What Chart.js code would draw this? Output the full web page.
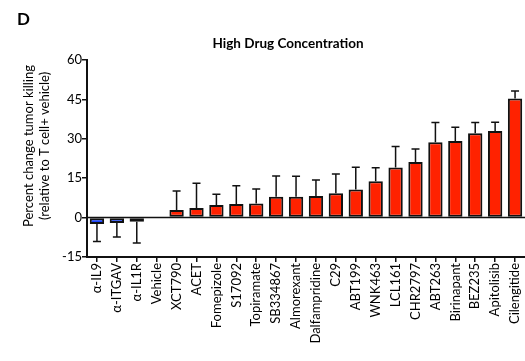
<!DOCTYPE html>
<html>
<head>
<meta charset="utf-8">
<script src="https://cdn.jsdelivr.net/npm/chart.js@4.4.1/dist/chart.umd.min.js"></script>
<style>
html,body{margin:0;padding:0;background:#fff;}
#wrap{width:525px;height:361px;position:relative;}
</style>
</head>
<body>
<div id="wrap"><canvas id="c" width="525" height="361"></canvas></div>
<script>
const categories = ["α-IL9","α-ITGAV","α-IL1R","Vehicle","XCT790","ACET","Fomepizole","S17092","Topiramate","SB334867","Almorexant","Dalfampridine","C29","ABT199","WNK463","LCL161","CHR2797","ABT263","Birinapant","BEZ235","Apitolisib","Cilengitide"];
const values = [-2.4,-2.1,-1.6,0,2.9,3.7,4.8,5.2,5.4,7.9,7.9,8.2,9.3,10.7,13.8,19.1,21.2,28.7,29.2,32.1,33.0,45.3];
const errors = [6.7,5.3,8.1,0,7.2,9.4,4.1,6.9,5.5,7.9,7.8,6.1,7.3,8.5,5.2,8.0,4.9,7.5,5.2,4.1,3.3,2.9];
const yTicks = [-15,0,15,30,45,60];
const chartTitle = "High Drug Concentration";
const panelLabel = "D";
const yTitle = ["Percent change tumor killing","(relative to T cell+ vehicle)"];

const FONT = "Lato, 'Open Sans', sans-serif";
const RED = "#ff2200", BLUE = "#1a44ff";
const colors = values.map(v => v < 0 ? BLUE : RED);

const errorBars = {
  id: 'errorBars',
  afterDatasetsDraw(chart) {
    const ctx = chart.ctx, x = chart.scales.x, y = chart.scales.y;
    ctx.save();
    ctx.strokeStyle = '#111';
    ctx.lineWidth = 1.5;
    values.forEach((v, i) => {
      if (!errors[i]) return;
      const cx = x.getPixelForValue(i);
      const y0 = y.getPixelForValue(v);
      const y1 = y.getPixelForValue(v >= 0 ? v + errors[i] : v - errors[i]);
      ctx.beginPath();
      ctx.moveTo(cx, y0); ctx.lineTo(cx, y1);
      ctx.moveTo(cx - 4, y1); ctx.lineTo(cx + 4, y1);
      ctx.stroke();
    });
    const z = y.getPixelForValue(0);
    ctx.lineWidth = 1.5;
    ctx.beginPath();
    ctx.moveTo(chart.chartArea.left, z); ctx.lineTo(chart.chartArea.right, z);
    ctx.stroke();
    ctx.restore();
  },
  afterDraw(chart) {
    const ctx = chart.ctx;
    ctx.save();
    ctx.fillStyle = '#000';
    ctx.textBaseline = 'middle';
    ctx.font = "bold 17px " + FONT;
    ctx.textAlign = 'left';
    ctx.fillText(panelLabel, 17, 20);
    ctx.font = "bold 13.5px " + FONT;
    ctx.textAlign = 'center';
    ctx.fillText(chartTitle, 288, 44);
    ctx.font = "13px " + FONT;
    ctx.translate(0, 146);
    ctx.rotate(-Math.PI / 2);
    ctx.fillText(yTitle[0], 0, 29);
    ctx.fillText(yTitle[1], 0, 45);
    ctx.restore();
  }
};

new Chart(document.getElementById('c'), {
  type: 'bar',
  data: {
    labels: categories,
    datasets: [{
      data: values,
      backgroundColor: colors,
      borderColor: '#111',
      borderWidth: 2,
      borderSkipped: false,
      categoryPercentage: 0.72,
      barPercentage: 1.0
    }]
  },
  options: {
    responsive: false,
    animation: false,
    events: [],
    layout: { padding: { left: 0, right: 0, top: 60, bottom: 0 } },
    plugins: { legend: { display: false }, tooltip: { enabled: false }, title: { display: false } },
    scales: {
      x: {
        grid: { display: true, drawOnChartArea: false, drawTicks: true, tickLength: 5, color: '#111', lineWidth: 1.5, offset: false },
        border: { display: true, color: '#111', width: 2 },
        ticks: { maxRotation: 90, minRotation: 90, autoSkip: false, color: '#000', font: { family: FONT, size: 13 }, padding: 1 },
        afterFit(s) { s.height = 361 - 257; s.paddingLeft = 0; s.paddingRight = 0; }
      },
      y: {
        min: -15, max: 60,
        afterBuildTicks(s) { s.ticks = yTicks.map(v => ({ value: v })); },
        grid: { display: true, drawOnChartArea: false, drawTicks: true, tickLength: 5, color: '#111', lineWidth: 1.5 },
        border: { display: true, color: '#111', width: 2 },
        ticks: { color: '#000', font: { family: FONT, size: 13 }, padding: 0 },
        afterFit(s) { s.width = 87; s.paddingTop = 0; s.paddingBottom = 0; }
      }
    }
  },
  plugins: [errorBars]
});
</script>
</body>
</html>
